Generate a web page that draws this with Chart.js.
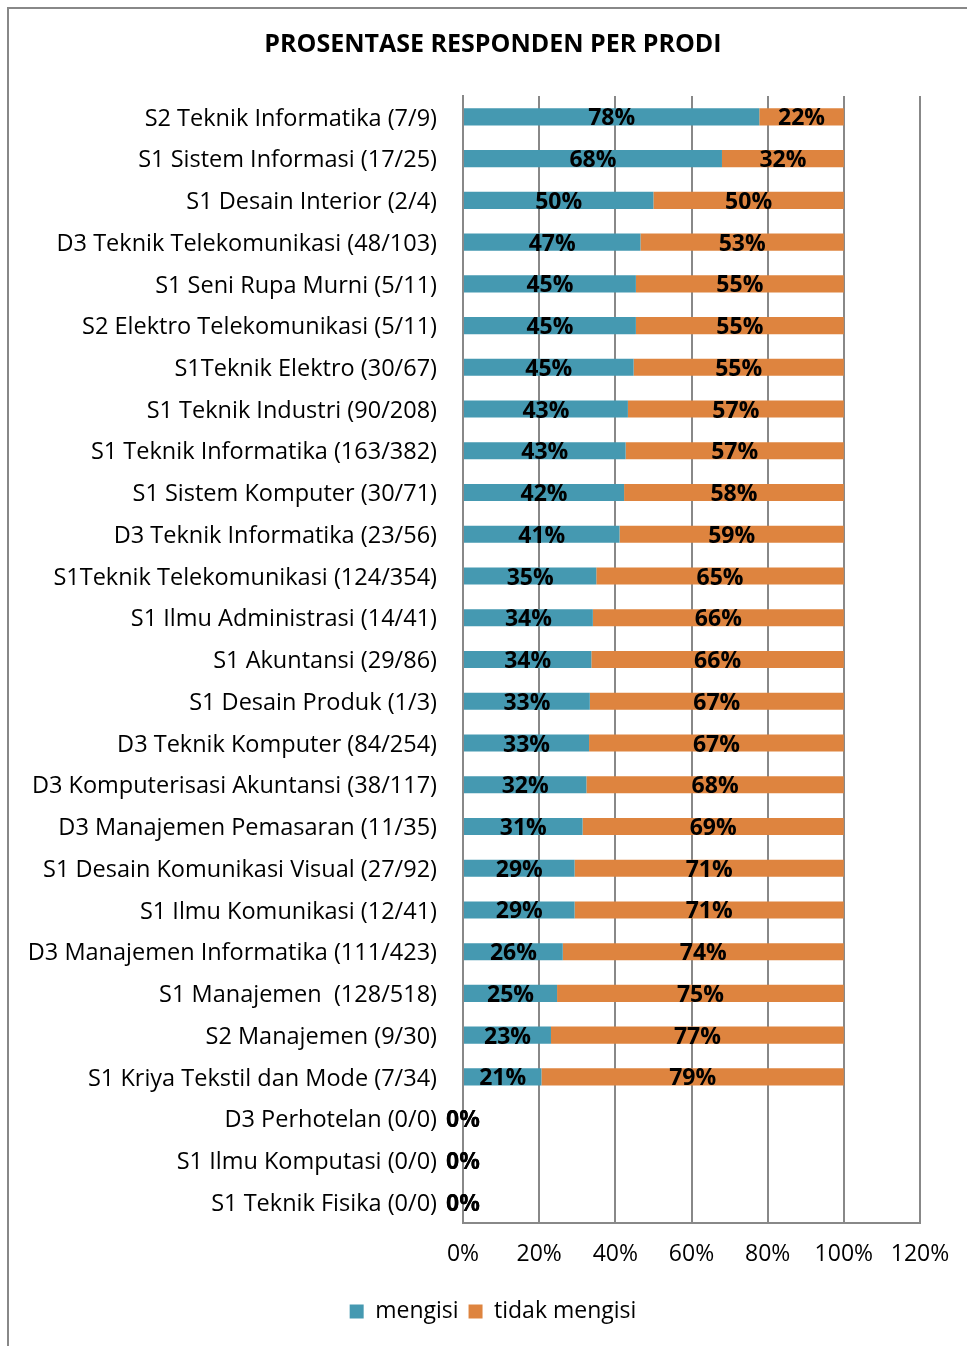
<!DOCTYPE html>
<html>
<head>
<meta charset="utf-8">
<script src="https://cdn.jsdelivr.net/npm/chart.js@4.4.1/dist/chart.umd.min.js"></script>
<style>
  html, body { margin: 0; padding: 0; background: #fff; overflow: hidden; }
  #wrap { position: relative; width: 967px; height: 1346px; overflow: hidden; }
  #chart { position: absolute; left: 0; top: 0; }
  .edge-left { position: absolute; left: 7px; top: 7px; width: 2px; height: 1339px; background: #888; }
  .edge-top { position: absolute; left: 7px; top: 7px; width: 960px; height: 2px; background: #888; }
</style>
</head>
<body>
<div id="wrap">
  <canvas id="chart" width="986" height="1346"></canvas>
  <div class="edge-left"></div>
  <div class="edge-top"></div>
</div>
<script>
const categories = [
  'S2 Teknik Informatika (7/9)',
  'S1 Sistem Informasi (17/25)',
  'S1 Desain Interior (2/4)',
  'D3 Teknik Telekomunikasi (48/103)',
  'S1 Seni Rupa Murni (5/11)',
  'S2 Elektro Telekomunikasi (5/11)',
  'S1Teknik Elektro (30/67)',
  'S1 Teknik Industri (90/208)',
  'S1 Teknik Informatika (163/382)',
  'S1 Sistem Komputer (30/71)',
  'D3 Teknik Informatika (23/56)',
  'S1Teknik Telekomunikasi (124/354)',
  'S1 Ilmu Administrasi (14/41)',
  'S1 Akuntansi (29/86)',
  'S1 Desain Produk (1/3)',
  'D3 Teknik Komputer (84/254)',
  'D3 Komputerisasi Akuntansi (38/117)',
  'D3 Manajemen Pemasaran (11/35)',
  'S1 Desain Komunikasi Visual (27/92)',
  'S1 Ilmu Komunikasi (12/41)',
  'D3 Manajemen Informatika (111/423)',
  'S1 Manajemen  (128/518)',
  'S2 Manajemen (9/30)',
  'S1 Kriya Tekstil dan Mode (7/34)',
  'D3 Perhotelan (0/0)',
  'S1 Ilmu Komputasi (0/0)',
  'S1 Teknik Fisika (0/0)'
];

const mengisi = [77.8, 68, 50, 46.6, 45.4, 45.4, 44.8, 43.3, 42.7, 42.3, 41.1, 35.0, 34.1, 33.7,
  33.3, 33.1, 32.4, 31.4, 29.3, 29.3, 26.2, 24.7, 23.1, 20.6, 0, 0, 0];
const tidakMengisi = [22.2, 32, 50, 53.4, 54.6, 54.6, 55.2, 56.7, 57.3, 57.7, 58.9, 65.0, 65.9, 66.3,
  66.7, 66.9, 67.6, 68.6, 70.7, 70.7, 73.8, 75.3, 76.9, 79.4, 0, 0, 0];

const xTicks = [0, 20, 40, 60, 80, 100, 120];

const fontFamily = "'Open Sans', 'Noto Sans', sans-serif";
const gridColor = '#888888';

// draws the bold percentage in the middle of each bar piece
const barLabels = {
  id: 'barLabels',
  afterDatasetsDraw(chart) {
    const ctx = chart.ctx;
    ctx.save();
    ctx.font = 'bold 23px ' + fontFamily;
    ctx.fillStyle = '#000';
    ctx.textAlign = 'center';
    ctx.textBaseline = 'middle';
    chart.data.datasets.forEach((ds, i) => {
      const meta = chart.getDatasetMeta(i);
      meta.data.forEach((bar, j) => {
        const v = ds.data[j];
        const x = (bar.x + bar.base) / 2;
        ctx.fillText(Math.round(v) + '%', x, bar.y + 2);
      });
    });
    ctx.restore();
  }
};

new Chart(document.getElementById('chart'), {
  type: 'bar',
  data: {
    labels: categories,
    datasets: [
      { label: 'mengisi', data: mengisi, backgroundColor: '#4599B1', barPercentage: 0.41, categoryPercentage: 1 },
      { label: 'tidak mengisi', data: tidakMengisi, backgroundColor: '#DE843F', barPercentage: 0.41, categoryPercentage: 1 }
    ]
  },
  options: {
    indexAxis: 'y',
    responsive: false,
    animation: false,
    events: [],
    layout: { padding: { left: 0, right: 0, top: 0, bottom: 13 } },
    scales: {
      x: {
        stacked: true,
        min: 0,
        max: 120,
        afterBuildTicks(scale) { scale.ticks = xTicks.map(v => ({ value: v })); },
        afterFit(scale) { scale.height = 67; },
        grid: { color: gridColor, lineWidth: 2, drawTicks: false },
        border: { color: gridColor, width: 2 },
        ticks: {
          padding: 18,
          color: '#000',
          font: { family: fontFamily, size: 23 },
          callback: v => v + '%'
        }
      },
      y: {
        stacked: true,
        afterFit(scale) { scale.width = 463; },
        grid: { display: false, drawTicks: false },
        border: { color: gridColor, width: 2 },
        ticks: {
          padding: 26,
          labelOffset: 2,
          color: '#000',
          autoSkip: false,
          font: { family: fontFamily, size: 23.5 }
        }
      },
      // empty right-hand spacer so the title centres over the whole frame
      spacer: {
        type: 'category',
        position: 'right',
        afterFit(scale) { scale.width = 66; },
        grid: { display: false, drawTicks: false },
        border: { display: false },
        ticks: { display: false }
      }
    },
    plugins: {
      title: {
        display: true,
        text: 'PROSENTASE RESPONDEN PER PRODI',
        color: '#000',
        font: { family: fontFamily, size: 25, weight: 'bold' },
        padding: { top: 30, bottom: 36 }
      },
      legend: {
        position: 'bottom',
        labels: {
          color: '#000',
          boxWidth: 14,
          boxHeight: 14,
          padding: 10,
          font: { family: fontFamily, size: 23 }
        }
      },
      tooltip: { enabled: false }
    }
  },
  plugins: [barLabels]
});
</script>
</body>
</html>
